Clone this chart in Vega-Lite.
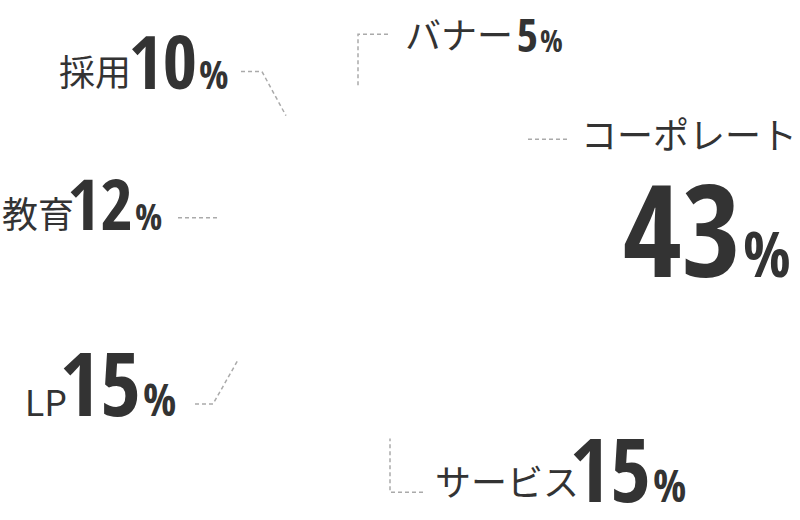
{
  "$schema": "https://vega.github.io/schema/vega-lite/v6.json",
  "width": 800,
  "height": 520,
  "autosize": {"type": "fit", "contains": "padding"},
  "padding": 0,
  "background": "white",
  "config": {"view": {"stroke": null}},
  "datasets": {
    "labels": [
      {"cat": "コーポレート", "pct": 43, "nx": 797, "ny": 152, "px": 742, "py": 282},
      {"cat": "サービス", "pct": 15, "nx": 579, "ny": 506, "px": 652, "py": 512},
      {"cat": "LP", "pct": 15, "nx": 67, "ny": 424, "px": 142, "py": 424},
      {"cat": "教育", "pct": 12, "nx": 74, "ny": 232, "px": 134, "py": 235},
      {"cat": "採用", "pct": 10, "nx": 131, "ny": 88, "px": 198, "py": 91},
      {"cat": "バナー", "pct": 5, "nx": 513, "ny": 50, "px": 539, "py": 53}
    ],
    "leaders": [
      {"cat": "採用", "seq": 1, "x": 241, "y": 73},
      {"cat": "採用", "seq": 2, "x": 262, "y": 73},
      {"cat": "採用", "seq": 3, "x": 286, "y": 118},
      {"cat": "バナー", "seq": 1, "x": 388, "y": 35},
      {"cat": "バナー", "seq": 2, "x": 358, "y": 35},
      {"cat": "バナー", "seq": 3, "x": 358, "y": 90},
      {"cat": "コーポレート", "seq": 1, "x": 528, "y": 142},
      {"cat": "コーポレート", "seq": 2, "x": 567, "y": 142},
      {"cat": "教育", "seq": 1, "x": 178, "y": 222},
      {"cat": "教育", "seq": 2, "x": 218, "y": 222},
      {"cat": "LP", "seq": 1, "x": 195, "y": 412},
      {"cat": "LP", "seq": 2, "x": 213, "y": 412},
      {"cat": "LP", "seq": 3, "x": 238, "y": 367},
      {"cat": "サービス", "seq": 1, "x": 423, "y": 502},
      {"cat": "サービス", "seq": 2, "x": 390, "y": 502},
      {"cat": "サービス", "seq": 3, "x": 390, "y": 447}
    ]
  },
  "layer": [
    {
      "data": {"name": "leaders"},
      "mark": {"type": "line", "stroke": "#aaaaaa", "strokeWidth": 1.5, "strokeDash": [4, 3]},
      "encoding": {
        "x": {"field": "x", "type": "quantitative", "scale": {"domain": [0, 800], "nice": false, "zero": false}, "axis": null},
        "y": {"field": "y", "type": "quantitative", "scale": {"domain": [0, 520], "reverse": true, "nice": false, "zero": false}, "axis": null},
        "detail": {"field": "cat"},
        "order": {"field": "seq"}
      }
    },
    {
      "data": {"name": "labels"},
      "mark": {"type": "text", "align": "right", "baseline": "alphabetic", "font": "Noto Sans CJK JP", "fontSize": 36, "color": "#333333"},
      "encoding": {
        "x": {"field": "nx", "type": "quantitative"},
        "y": {"field": "ny", "type": "quantitative"},
        "text": {"field": "cat"}
      }
    },
    {
      "data": {"name": "labels"},
      "mark": {"type": "text", "align": "right", "baseline": "alphabetic", "font": "Open Sans Condensed", "fontWeight": "bold", "color": "#333333", "dx": -1},
      "encoding": {
        "x": {"field": "px", "type": "quantitative"},
        "y": {"field": "py", "type": "quantitative"},
        "text": {"field": "pct", "type": "quantitative"},
        "size": {"field": "pct", "type": "quantitative", "scale": {"type": "threshold", "domain": [8, 11, 13, 20], "range": [46, 74, 71, 88, 128]}, "legend": null}
      }
    },
    {
      "data": {"name": "labels"},
      "mark": {"type": "text", "align": "left", "baseline": "alphabetic", "font": "Open Sans Condensed", "fontWeight": "bold", "color": "#333333", "dx": 1, "text": "%"},
      "encoding": {
        "x": {"field": "px", "type": "quantitative"},
        "y": {"field": "py", "type": "quantitative"},
        "size": {"field": "pct", "type": "quantitative", "scale": {"type": "threshold", "domain": [8, 11, 13, 20], "range": [30, 39, 36, 44, 63]}, "legend": null}
      }
    }
  ],
  "resolve": {"scale": {"size": "independent"}}
}
